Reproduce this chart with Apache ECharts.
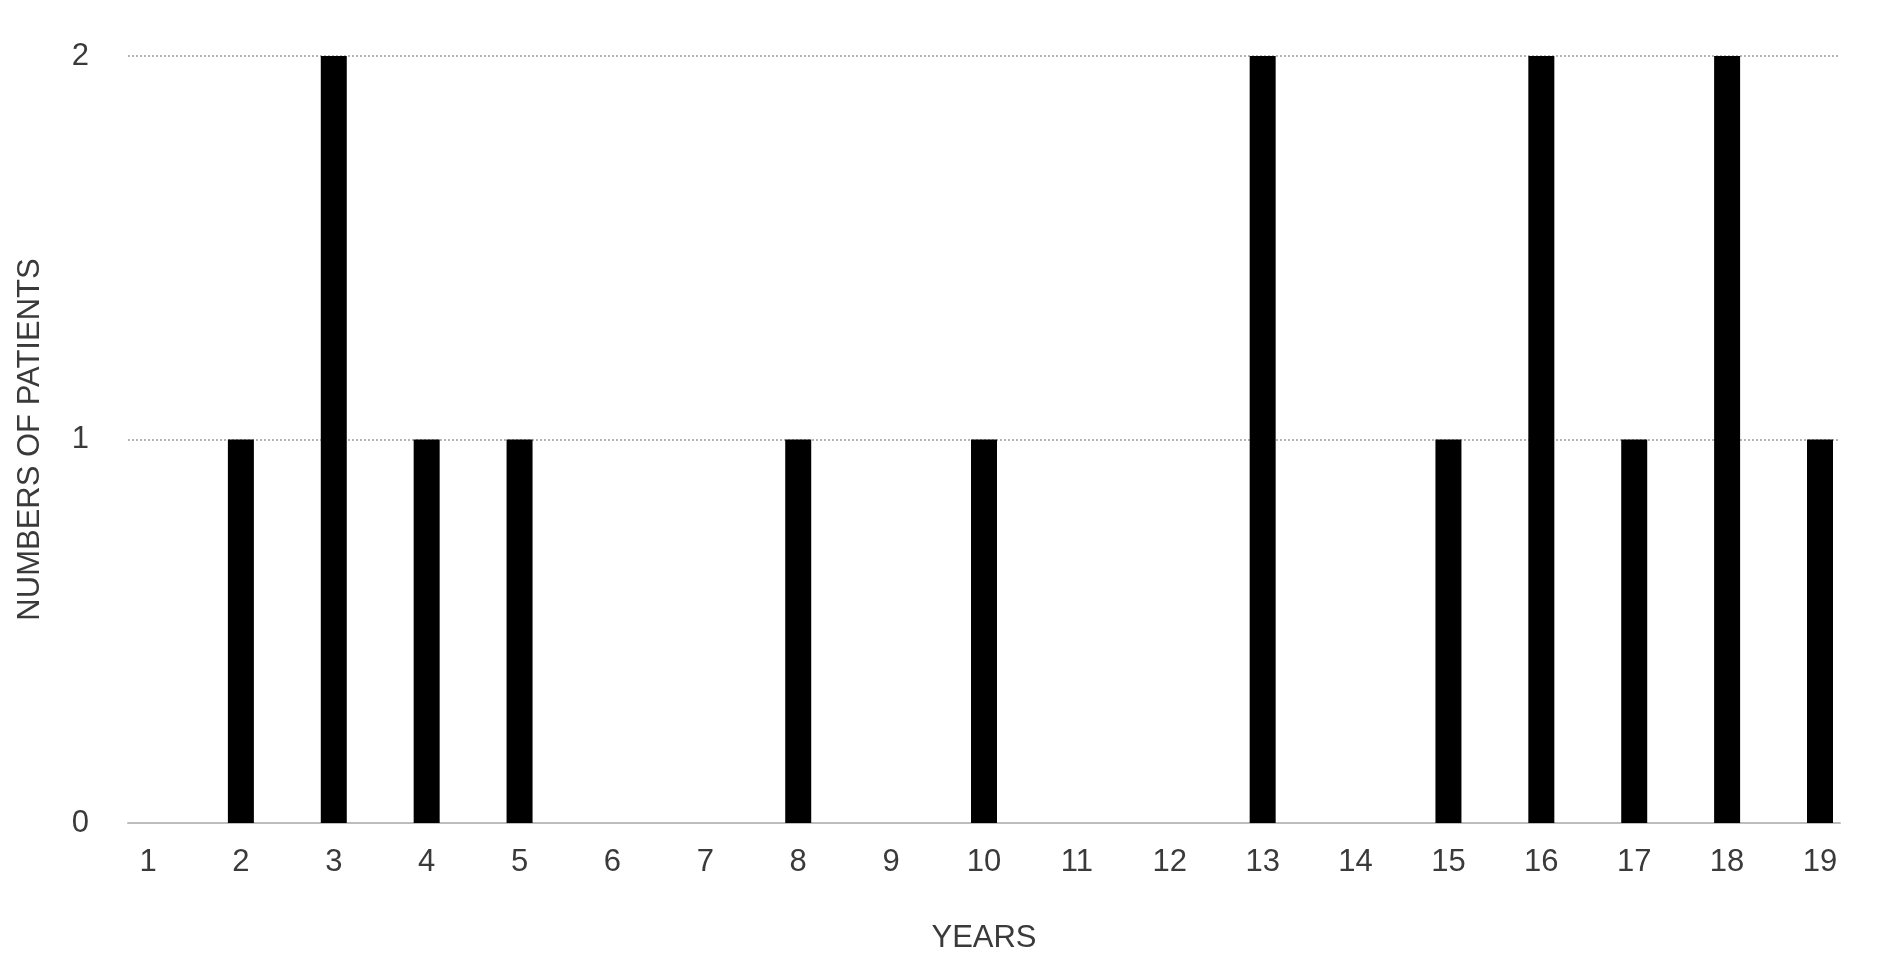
<!DOCTYPE html>
<html>
<head>
<meta charset="utf-8">
<title>Numbers of patients per year</title>
<script src="https://cdn.jsdelivr.net/npm/echarts@6/dist/echarts.min.js"></script>
<style>
  html, body { margin: 0; padding: 0; background: #fff; }
  #chart { width: 1881px; height: 973px; }
</style>
</head>
<body>
<div id="chart"></div>
<script>
// 数据
const years = ['1', '2', '3', '4', '5', '6', '7', '8', '9', '10', '11', '12', '13', '14', '15', '16', '17', '18', '19'];
const patientCounts = [0, 1, 2, 1, 1, 0, 0, 1, 0, 1, 0, 0, 2, 0, 1, 2, 1, 2, 1];
const yTicks = [0, 1, 2];

const fontFamily = 'Liberation Sans, Arial, sans-serif';
const textColor = '#3a3a3a';

const myChart = echarts.init(document.getElementById('chart'));

const option = {
  backgroundColor: '#fff',
  animation: false,
  // grid 0: 轴线和网格线（比柱子区域宽一点）
  // grid 1: 类目轴和柱子
  grid: [
    { left: 128, right: 41, top: 56, bottom: 150, outerBoundsMode: 'none' },
    { left: 148, right: 61, top: 56, bottom: 150, outerBoundsMode: 'none' }
  ],
  xAxis: [
    {
      gridIndex: 0,
      type: 'value',
      min: 0,
      max: 1,
      axisLine: { show: true, lineStyle: { color: '#bdbdbd', width: 2 } },
      axisTick: { show: false },
      axisLabel: { show: false },
      splitLine: { show: false },
      name: 'YEARS',
      nameLocation: 'middle',
      nameGap: 100,
      nameTextStyle: { fontSize: 31, color: textColor, fontFamily: fontFamily }
    },
    {
      gridIndex: 1,
      type: 'category',
      data: years,
      boundaryGap: false,
      axisLine: { show: false },
      axisTick: { show: false },
      axisLabel: { fontSize: 31, color: textColor, fontFamily: fontFamily, margin: 24 }
    }
  ],
  yAxis: [
    {
      gridIndex: 0,
      type: 'value',
      min: yTicks[0],
      max: yTicks[yTicks.length - 1],
      interval: 1,
      axisLine: { show: false },
      axisTick: { show: false },
      axisLabel: { fontSize: 31, color: textColor, fontFamily: fontFamily, margin: 39 },
      splitLine: { show: true, lineStyle: { color: '#b5b5b5', type: [2, 2], width: 2 } },
      name: 'NUMBERS OF PATIENTS',
      nameLocation: 'middle',
      nameRotate: 90,
      nameGap: 82,
      nameTextStyle: { fontSize: 31, color: textColor, fontFamily: fontFamily }
    },
    {
      gridIndex: 1,
      type: 'value',
      min: yTicks[0],
      max: yTicks[yTicks.length - 1],
      show: false
    }
  ],
  series: [
    {
      type: 'bar',
      xAxisIndex: 1,
      yAxisIndex: 1,
      data: patientCounts,
      barWidth: 26,
      itemStyle: { color: '#000' }
    }
  ]
};

myChart.setOption(option, true);
</script>
</body>
</html>
